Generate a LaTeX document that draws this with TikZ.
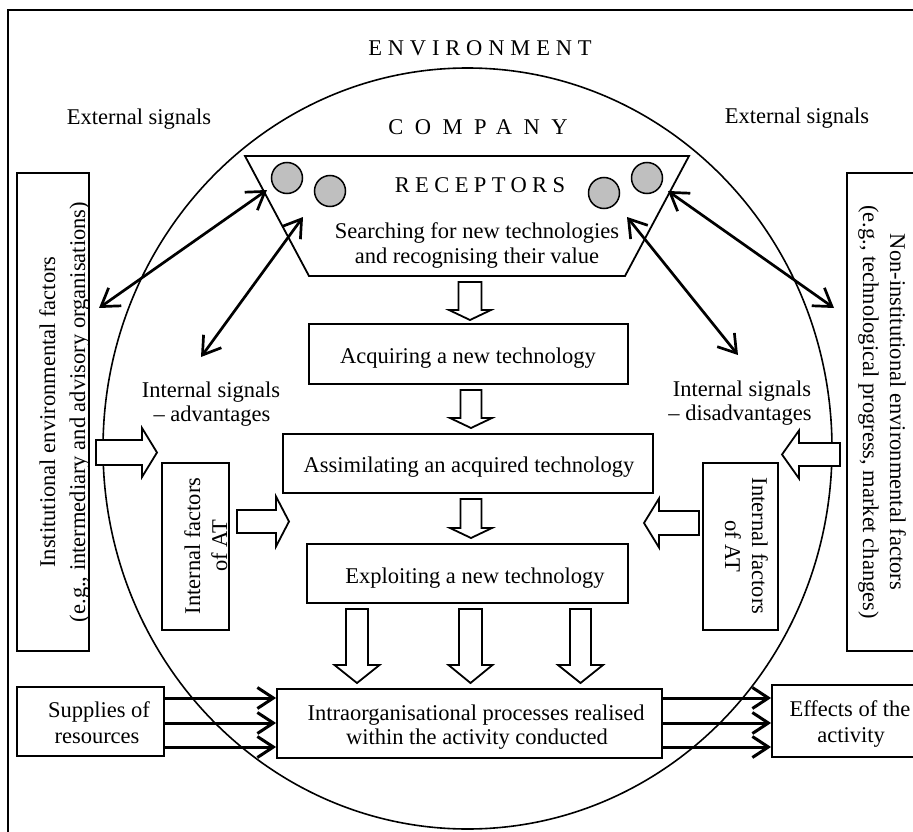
\documentclass[tikz,border=0pt]{standalone}
\usepackage{fontspec}
\setmainfont{Liberation Serif}
\usetikzlibrary{arrows.meta,shapes.geometric}
\newcommand\vblk[6]{% cx, ytop, yhead, ytip, shaft half width, head half width
  \draw[blk] ({#1-#5},#2) -- ({#1+#5},#2) -- ({#1+#5},#3) -- ({#1+#6},#3) -- (#1,#4) -- ({#1-#6},#3) -- ({#1-#5},#3) -- cycle;}
\newcommand\hblk[6]{% xstart, xhead, xtip, cy, shaft half width, head half width
  \draw[blk] (#1,{#4-#5}) -- (#2,{#4-#5}) -- (#2,{#4-#6}) -- (#3,#4) -- (#2,{#4+#6}) -- (#2,{#4+#5}) -- (#1,{#4+#5}) -- cycle;}
\begin{document}
\begin{tikzpicture}[x=1pt,y=-1pt,
  txt/.style={font=\fontsize{22.5}{26}\selectfont, inner sep=0pt, anchor=base},
  spaced/.style={font=\fontsize{22.5}{26}\selectfont\addfontfeatures{LetterSpace=#1}, inner sep=0pt, anchor=base},
  box/.style={draw, line width=1.8pt, inner sep=0pt, minimum width=#1},
  blk/.style={draw, fill=white, line width=1.8pt, line join=miter},
  dbl/.style={line width=2.7pt, {Straight Barb[length=17pt,width=22pt]}-{Straight Barb[length=17pt,width=22pt]}},
  one/.style={line width=3pt, -{Straight Barb[length=16pt,width=21pt]}},
  recep/.style={draw, circle, fill=gray!50, line width=1.5pt, minimum size=31pt, inner sep=0pt}
]
\useasboundingbox (0,0) rectangle (913,832);
\clip (0,0) rectangle (913,832);
\fill[white] (0,0) rectangle (913,832);

% outer frame (environment)
\draw[line width=1.4pt] (940,10) -- (8,10) -- (8,860);

% company ellipse
\node[draw, ellipse, line width=1.6pt, minimum width=729pt, minimum height=761pt, inner sep=0pt] (company) at (467.5,448.5) {};

% headings
\node[spaced=26] (env) at (480,56) {ENVIRONMENT};
\node[spaced=51] (comp) at (478,135) {COMPANY};
\node[txt] (extl) at (139,125) {External signals};
\node[txt] (extr) at (797,124) {External signals};

% receptors trapezium
\coordinate (tl) at (245,156);
\coordinate (tr) at (689,156);
\coordinate (br) at (625,276);
\coordinate (bl) at (309,276);
\draw[line width=1.8pt] (tl) -- (tr) -- (br) -- (bl) -- cycle;
\node[recep] (c1) at (287,178) {};
\node[recep] (c2) at (330,191) {};
\node[recep] (c3) at (604,193) {};
\node[recep] (c4) at (647,178) {};
\node[spaced=24] (rec) at (480,192) {RECEPTORS};
\node[txt] (srch1) at (477,238) {Searching for new technologies};
\node[txt] (srch2) at (477,263) {and recognising their value};

% process boxes
\node[box=319pt, minimum height=60pt] (acq) at (468.5,354) {};
\node[txt] (acqt) at (468,363) {Acquiring a new technology};
\node[box=370pt, minimum height=59pt] (asm) at (468,463.5) {};
\node[txt] (asmt) at (469,472) {Assimilating an acquired technology};
\node[box=321pt, minimum height=59pt] (exp) at (467.5,573.5) {};
\node[txt] (expt) at (475,583) {Exploiting a new technology};
\node[box=385pt, minimum height=69pt] (intra) at (469.5,723.5) {};
\node[txt] (intra1) at (476,720) {Intraorganisational processes realised};
\node[txt] (intra2) at (477,744) {within the activity conducted};

% supplies and effects
\node[box=147pt, minimum height=69pt] (sup) at (90.5,721.5) {};
\node[txt] (sup1) at (99,717) {Supplies of};
\node[txt] (sup2) at (97,743) {resources};
\node[box=168pt, minimum height=72pt] (eff) at (856,721) {};
\node[txt] (eff1) at (850,716) {Effects of the};
\node[txt] (eff2) at (851,742) {activity};

% environmental factor boxes
\node[box=72pt, minimum height=478pt] (inst) at (53,412) {};
\node[txt, rotate=90] (inst1) at (55,412) {Institutional environmental factors};
\node[txt, rotate=90] (inst2) at (85,412) {(e.g., intermediary and advisory organisations)};
\node[box=93pt, minimum height=478pt] (ninst) at (893.5,412) {};
\node[txt, rotate=-90] (ninst1) at (890,412) {Non-institutional environmental factors};
\node[txt, rotate=-90] (ninst2) at (863,412) {(e.g., technological progress, market changes)};

% internal factors boxes
\node[box=67pt, minimum height=167pt] (ifl) at (195.5,546.5) {};
\node[txt, rotate=90] (ifl1) at (200,546) {Internal factors};
\node[txt, rotate=90] (ifl2) at (227,546) {of AT};
\node[box=75pt, minimum height=167pt] (ifr) at (740.5,546.5) {};
\node[txt, rotate=-90] (ifr1) at (752,546) {Internal factors};
\node[txt, rotate=-90] (ifr2) at (725,546) {of AT};

% internal signals
\node[txt] (isl1) at (211,397) {Internal signals};
\node[txt] (isl2) at (212,421) {– advantages};
\node[txt] (isr1) at (742,396) {Internal signals};
\node[txt] (isr2) at (740,420) {– disadvantages};

% double-headed signal arrows
\coordinate (a1s) at (99,308);  \coordinate (a1e) at (267,190);
\coordinate (a2s) at (201,357); \coordinate (a2e) at (303,217);
\coordinate (a3s) at (738,355); \coordinate (a3e) at (627,217);
\coordinate (a4s) at (834,308); \coordinate (a4e) at (668,191);
\draw[dbl] (a1s) -- (a1e);
\draw[dbl] (a2s) -- (a2e);
\draw[dbl] (a3s) -- (a3e);
\draw[dbl] (a4s) -- (a4e);

% block arrows down the chain
\vblk{470}{282}{310}{320}{11.5}{21}
\vblk{471}{390}{418}{428}{10.5}{21}
\vblk{471}{499}{528}{538}{10.5}{21}
\vblk{357}{609}{665}{683}{11}{22.5}
\vblk{470.5}{609}{665}{683}{11.5}{22}
\vblk{580.5}{609}{665}{683}{10.5}{22.5}

% horizontal block arrows
\hblk{96}{142}{157}{452.5}{12.5}{24.5}
\hblk{237}{276}{289}{521.5}{11.5}{25}
\hblk{840}{799}{782}{454.5}{11.5}{24}
\hblk{699}{659}{644}{523}{12}{24.5}

% resource flows
\coordinate (r1) at (0,698);
\coordinate (r2) at (0,723);
\coordinate (r3) at (0,747);
\draw[one] (sup.east |- r1) -- (intra.west |- r1);
\draw[one] (sup.east |- r2) -- (intra.west |- r2);
\draw[one] (sup.east |- r3) -- (intra.west |- r3);
\draw[one] (intra.east |- r1) -- (eff.west |- r1);
\draw[one] (intra.east |- r2) -- (eff.west |- r2);
\draw[one] (intra.east |- r3) -- (eff.west |- r3);
\end{tikzpicture}
\end{document}
